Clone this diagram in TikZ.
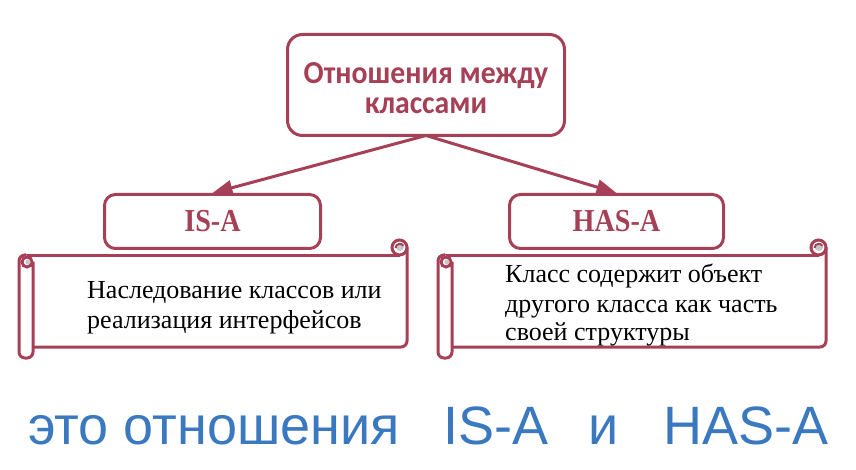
\documentclass[tikz,border=0pt]{standalone}
\usepackage{fontspec}
\usetikzlibrary{arrows.meta}
\setmainfont{Liberation Serif}
\newfontfamily\headfont[FakeStretch=0.93]{Carlito}
\newfontfamily\boxfont[FakeStretch=0.88]{Liberation Serif}
\newfontfamily\bluefont{Liberation Sans}
\definecolor{berry}{RGB}{166,64,86}
\definecolor{curlgray}{RGB}{200,200,200}
\definecolor{blueT}{RGB}{58,120,192}
\tikzset{
  mline/.style={draw=berry, line width=3pt},
  rbox/.style={mline, fill=white, rounded corners=#1, inner sep=0pt, text=berry},
  conn/.style={draw=berry, line width=3pt, -{Triangle[length=20pt,width=15pt]}},
  scrolltext/.style={anchor=base west, inner sep=0pt, font=\fontsize{26}{30}\selectfont},
  bluetext/.style={anchor=base west, inner sep=0pt, text=blueT, font=\bluefont\fontsize{54}{60}\selectfont}
}
\newcommand{\drawmyscroll}{%
  \draw[mline] (399.5,256) -- (26,256);
  \draw[mline, rounded corners=6pt] (407,247.5) -- (407,347) -- (33,347);
  \draw[mline, fill=white] (399.5,247.5) circle (7.5);
  \fill[curlgray] (400,247) circle (4);
  \draw[draw=berry, line width=2pt] (395.5,248) arc[start angle=180, end angle=330, radius=4.2];
  \draw[mline, fill=white, rounded corners=6pt] (26,255) -- (19,255) -- (19,358) -- (33,358) -- (33,262);
  \draw[mline, fill=white] (27,262) circle (5);
  \fill[curlgray] (28,262) circle (2.6);
}
\begin{document}
\begin{tikzpicture}[x=1pt,y=-1pt]
\useasboundingbox (0,0) rectangle (856,470);
\fill[white] (0,0) rectangle (856,470);
% top box
\draw[rbox=15pt] (287.5,34.5) rectangle (564.5,135.5);
\node[inner sep=0pt, anchor=base, text=berry,
      font=\headfont\bfseries\fontsize{32}{32}\selectfont] (topA) at (426,84) {Отношения между};
\node[inner sep=0pt, anchor=base, text=berry,
      font=\headfont\bfseries\fontsize{32}{32}\selectfont] (topB) at (426,114) {классами};
\coordinate (top) at (426,135.5);
% child boxes
\node[rbox=11pt, minimum width=216pt, minimum height=54pt,
      font=\boxfont\bfseries\fontsize{32}{34}\selectfont] (isa) at (212.5,221.5) {IS-A};
\node[rbox=11pt, minimum width=214pt, minimum height=54pt,
      font=\boxfont\bfseries\fontsize{32}{34}\selectfont] (hasa) at (616.5,221.5) {HAS-A};
\draw[conn] (top) -- (isa.north);
\draw[conn] (top) -- (hasa.north);
% scrolls
\begin{scope}
  \drawmyscroll
\end{scope}
\begin{scope}[xshift=419pt]
  \drawmyscroll
\end{scope}
\node[scrolltext] (l1) at (87,298) {Наследование классов или};
\node[scrolltext] (l2) at (87,328) {реализация интерфейсов};
\node[scrolltext] (r1) at (505,283) {Класс содержит объект};
\node[scrolltext] (r2) at (505,312) {другого класса как часть};
\node[scrolltext] (r3) at (505,340) {своей структуры};
% bottom line
\node[bluetext] (b1) at (28,444) {это отношения};
\node[bluetext] (b2) at (443,444) {IS-A};
\node[bluetext] (b3) at (588,444) {и};
\node[bluetext] (b4) at (663,444) {HAS-A};
\end{tikzpicture}
\end{document}
